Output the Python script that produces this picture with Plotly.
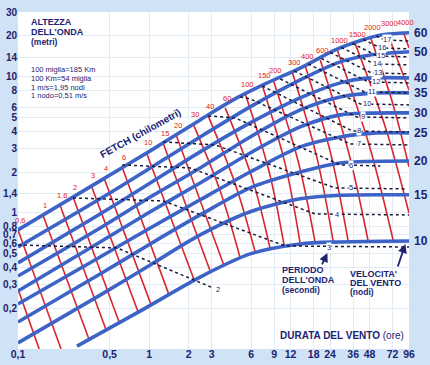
import math
import plotly.graph_objects as go

NAVY = "#1c2370"
BLUE = "#3d63c6"
RED = "#d8262e"
FONT = "Liberation Sans, Arial, sans-serif"
NARROW = "Liberation Sans Narrow, Arial Narrow, Liberation Sans, sans-serif"

# ---------------- axis ticks ----------------
x_tickvals = [0.1, 0.5, 1, 2, 3, 6, 9, 12, 18, 24, 36, 48, 72, 96]
x_ticktext = ["0,1", "0,5", "1", "2", "3", "6", "9", "12", "18", "24", "36", "48", "72", "96"]
y_tickvals = [0.2, 0.3, 0.4, 0.5, 0.6, 0.7, 0.8, 1, 1.4, 2, 3, 4, 5, 6, 8, 10, 14, 20, 30]
y_ticktext = ["0,2", "0,3", "0,4", "0,5", "0,6", "0,7", "0,8", "1", "1,4", "2", "3", "4",
              "5", "6", "8", "10", "14", "20", "30"]

# ---------------- wind speed curves (knots): duration (h) -> wave height (m) ----------------
wind_knots = [60, 50, 40, 35, 30, 25, 20, 15, 10]
wind_t = [
    [0.1, 0.423, 1.02, 2.45, 4.38, 7.96, 14.2, 26.3, 42.3, 60.1, 96],
    [0.1, 0.423, 1.02, 2.45, 5.90, 14.2, 28.7, 48.6, 96],
    [0.1, 0.423, 1.02, 2.45, 5.90, 14.2, 28.7, 46.1, 96],
    [0.1, 0.423, 1.02, 2.45, 5.90, 14.2, 28.7, 51.3, 96],
    [0.1, 0.423, 1.02, 2.45, 5.90, 14.2, 28.7, 46.1, 96],
    [0.1, 0.423, 1.02, 2.45, 5.90, 14.2, 28.7, 51.3, 96],
    [0.1, 0.423, 1.02, 2.45, 5.90, 14.2, 28.7, 96],
    [0.1, 0.423, 1.02, 2.45, 5.90, 14.2, 28.7, 96],
    [0.282, 0.854, 2.45, 5.90, 14.2, 28.7, 96],
]
wind_h = [
    [0.750, 1.72, 2.86, 4.83, 6.78, 9.03, 11.6, 15.8, 18.7, 20.4, 21.1],
    [0.562, 1.27, 2.14, 3.62, 6.02, 9.50, 12.9, 14.5, 15.3],
    [0.429, 0.983, 1.66, 2.81, 4.59, 7.01, 9.04, 9.80, 9.84],
    [0.344, 0.776, 1.31, 2.14, 3.62, 5.72, 7.13, 7.60, 7.63],
    [0.267, 0.612, 1.02, 1.66, 2.76, 4.29, 5.26, 5.42, 5.44],
    [0.214, 0.475, 0.776, 1.25, 2.00, 3.06, 3.62, 3.86, 3.88],
    [0.158, 0.356, 0.592, 0.967, 1.53, 2.00, 2.33, 2.41],
    [0.111, 0.249, 0.415, 0.689, 1.02, 1.27, 1.35, 1.36],
    [0.105, 0.190, 0.338, 0.500, 0.592, 0.612, 0.622],
]

# ---------------- fetch lines (km) ----------------
fetch_labels = ["0,6", "1", "1,6", "2", "3", "4", "6", "10", "15", "20", "30", "40", "60",
                "100", "150", "200", "300", "400", "600", "1000", "1500", "2000", "3000", "4000"]
fetch_t = [
    [0.100, 0.213], [0.155, 0.348], [0.209, 0.470], [0.263, 0.590], [0.361, 0.824],
    [0.453, 1.036], [0.622, 1.421], [0.949, 2.206], [1.279, 2.922], [1.608, 3.737],
    [2.167, 3.484, 4.952], [2.821, 4.535, 6.446], [3.804, 6.11, 8.389], [5.407, 8.17, 10.73],
    [7.288, 10.92, 14.21], [8.843, 13.72, 18.50], [12.35, 18.99, 25.39], [15.52, 24.30, 33.04],
    [20.20, 33.04, 46.97], [27.24, 47.80, 72.90], [37.36, 63.87, 96], [48.65, 71.61, 96],
    [65.58, 96], [86.87, 96],
]
fetch_h = [
    [0.750, 0.100], [0.967, 0.118], [1.145, 0.138], [1.311, 0.158], [1.606, 0.187],
    [1.809, 0.211], [2.179, 0.249], [2.809, 0.322], [3.271, 0.375], [3.746, 0.408],
    [4.512, 1.451, 0.467], [5.168, 1.634, 0.517], [5.917, 1.794, 0.544], [7.499, 2.071, 0.572],
    [8.734, 2.274, 0.592], [9.505, 2.391, 0.602], [10.88, 2.581, 0.612], [12.04, 2.716, 0.612],
    [13.34, 2.857, 0.612], [15.79, 3.135, 0.622], [17.48, 4.181, 1.0], [19.69, 6.550, 2.179],
    [21.06, 8.025], [21.42, 16.34],
]
# short unlabeled fetch line entering from the left edge
partial_fetch_t = [0.100, 0.145]
partial_fetch_h = [0.276, 0.100]

# ---------------- wave period lines (s) ----------------
period_s = [2, 3, 4, 5, 6, 7, 8, 9, 10, 11, 12, 13, 14, 15, 16, 17]
period_t = [
    [0.1, 0.570, 3.080],
    [0.263, 1.279, 10.92, 96],
    [0.622, 2.056, 18.50, 96],
    [1.279, 3.190, 26.30, 90.0],
    [2.821, 4.535, 28.71, 57.99],
    [4.952, 5.902, 34.22, 96],
    [7.288, 35.44, 96],
    [10.0, 38.03, 96],
    [12.79, 40.80, 96],
    [16.36, 43.77, 96],
    [20.56, 46.97, 96],
    [24.08, 49.51, 96],
    [29.22, 52.19, 96],
    [35.44, 55.02, 96],
    [43.01, 57.99, 96],
    [54.04, 62.23, 96],
]
period_h = [
    [0.582, 0.553, 0.281],
    [1.289, 1.225, 0.572, 0.562],
    [2.254, 2.142, 0.983, 0.967],
    [3.327, 3.162, 1.527, 1.502],
    [5.168, 4.995, 2.254, 2.216],
    [7.127, 6.890, 3.216, 3.162],
    [8.588, 4.008, 3.940],
    [9.667, 5.081, 4.995],
    [11.07, 6.331, 6.225],
    [12.46, 7.756, 7.627],
    [13.68, 9.190, 9.036],
    [15.14, 10.70, 10.52],
    [16.48, 12.46, 12.25],
    [17.63, 14.27, 14.03],
    [18.87, 16.34, 16.07],
    [20.02, 18.71, 18.39],
]
period_label_t = [3.363, 23.66, 27.24, 34.83, 34.83, 40.09, 40.09, 43.01, 46.14, 50.39,
                  54.04, 55.99, 55.02, 59.02, 60.06, 65.58]
period_label_h = [0.272, 0.562, 0.967, 1.527, 2.216, 3.216, 4.008, 5.081, 6.331, 7.756,
                  9.190, 10.70, 12.46, 14.27, 16.34, 18.71]

fig = go.Figure()

# fetch lines (red)
for ts, hs in zip(fetch_t, fetch_h):
    fig.add_trace(go.Scatter(x=ts, y=hs, mode="lines", line=dict(color=RED, width=1.6, shape="spline"),
                             hoverinfo="skip", showlegend=False))
fig.add_trace(go.Scatter(x=partial_fetch_t, y=partial_fetch_h, mode="lines",
                         line=dict(color=RED, width=1.6), hoverinfo="skip", showlegend=False))

# wind curves (blue)
for ts, hs in zip(wind_t, wind_h):
    fig.add_trace(go.Scatter(x=ts, y=hs, mode="lines",
                             line=dict(color=BLUE, width=3.6, shape="spline", smoothing=0.8),
                             hoverinfo="skip", showlegend=False))

# period lines (dotted)
for ts, hs in zip(period_t, period_h):
    fig.add_trace(go.Scatter(x=ts, y=hs, mode="lines",
                             line=dict(color="#1a1a3a", width=1.5, dash="dot"),
                             hoverinfo="skip", showlegend=False))

ann = []
# fetch labels
for lab, ts, hs in zip(fetch_labels, fetch_t, fetch_h):
    ann.append(dict(x=math.log10(ts[0]), y=math.log10(hs[0]), xref="x", yref="y", text=lab,
                    showarrow=False, xanchor="center", yanchor="middle", xshift=2, yshift=9,
                    font=dict(family=NARROW, size=7.5, color="#e3231d")))
# wind labels at right
for k, ts, hs in zip(wind_knots, wind_t, wind_h):
    ann.append(dict(x=math.log10(ts[-1]), y=math.log10(hs[-1]), xref="x", yref="y", text=str(k),
                    showarrow=False, xanchor="left", yanchor="middle", xshift=3,
                    font=dict(family=FONT, size=12, color=NAVY, weight="bold")))
# period labels
for s, lt, lh in zip(period_s, period_label_t, period_label_h):
    ann.append(dict(x=math.log10(lt), y=math.log10(lh), xref="x", yref="y", text=str(s),
                    showarrow=False, xanchor="center", yanchor="middle", bgcolor="white", borderpad=0,
                    font=dict(family=NARROW, size=7.5, color=NAVY)))


def ptext(txt, px, py, size, bold=True, family=FONT, anchor="left", angle=0):
    return dict(x=(px - 18) / 391, y=(349 - py) / 337, xref="paper", yref="paper", text=txt,
                showarrow=False, xanchor=anchor, yanchor="middle", textangle=angle,
                font=dict(family=family, size=size, color=NAVY, weight="bold" if bold else "normal"))


ann += [
    ptext("ALTEZZA", 29, 22, 9),
    ptext("DELL'ONDA", 29, 32, 9),
    ptext("(metri)", 29, 42, 8.5),
    ptext("100 miglia=185 Km", 29, 69.5, 7.5, bold=False, family=NARROW),
    ptext("100 Km=54 miglia", 29, 78, 7.5, bold=False, family=NARROW),
    ptext("1 m/s=1,95 nodi", 29, 87, 7.5, bold=False, family=NARROW),
    ptext("1 nodo=0,51 m/s", 29, 96, 7.5, bold=False, family=NARROW),
    ptext("FETCH (chilometri)", 140, 133, 10, anchor="center", angle=-29),
    ptext("PERIODO", 280, 270, 9),
    ptext("DELL'ONDA", 280, 280, 9),
    ptext("(secondi)", 280, 290, 8.5),
    ptext("VELOCITA'", 348, 273.5, 9),
    ptext("DEL VENTO", 348, 283, 9),
    ptext("(nodi)", 348, 292, 8.5),
    ptext("<b>DURATA DEL VENTO</b> (ore)", 278, 335, 10, bold=False),
]
# arrows
ann.append(dict(x=math.log10(22.9), y=math.log10(0.508), xref="x", yref="y", text="", showarrow=True,
                ax=-6, ay=13, arrowhead=2, arrowsize=1, arrowwidth=1.8, arrowcolor=NAVY))
ann.append(dict(x=math.log10(90.0), y=math.log10(0.592), xref="x", yref="y", text="", showarrow=True,
                ax=-8, ay=24, arrowhead=2, arrowsize=1, arrowwidth=1.8, arrowcolor=NAVY))

PAPER = "#cfe2f6"
fig.update_layout(
    width=430, height=365,
    margin=dict(l=18, r=21, t=12, b=16, autoexpand=False),
    paper_bgcolor=PAPER,
    plot_bgcolor="#ffffff",
    annotations=ann,
    xaxis=dict(type="log", range=[-1, math.log10(96)], tickvals=x_tickvals, ticktext=x_ticktext,
               showgrid=True, gridcolor="#e2ecf7", gridwidth=1, zeroline=False, showline=False,
               ticks="", tickfont=dict(family=FONT, size=10.5, color=NAVY, weight="bold"),
               ticklabelstandoff=-3, automargin=False, fixedrange=True),
    yaxis=dict(type="log", range=[-1, math.log10(30)], tickvals=y_tickvals, ticktext=y_ticktext,
               showgrid=True, gridcolor="#e2ecf7", gridwidth=1, zeroline=False, showline=False,
               ticks="", tickfont=dict(family=FONT, size=10, color=NAVY, weight="bold"),
               automargin=False, fixedrange=True),
    showlegend=False,
)

fig.write_html(
    "out.html",
    config={"displayModeBar": False},
    post_script=("document.body.style.margin='0';document.body.style.padding='0';"
                 "document.body.style.background='" + PAPER + "';"
                 "document.body.style.overflow='hidden';"),
)
